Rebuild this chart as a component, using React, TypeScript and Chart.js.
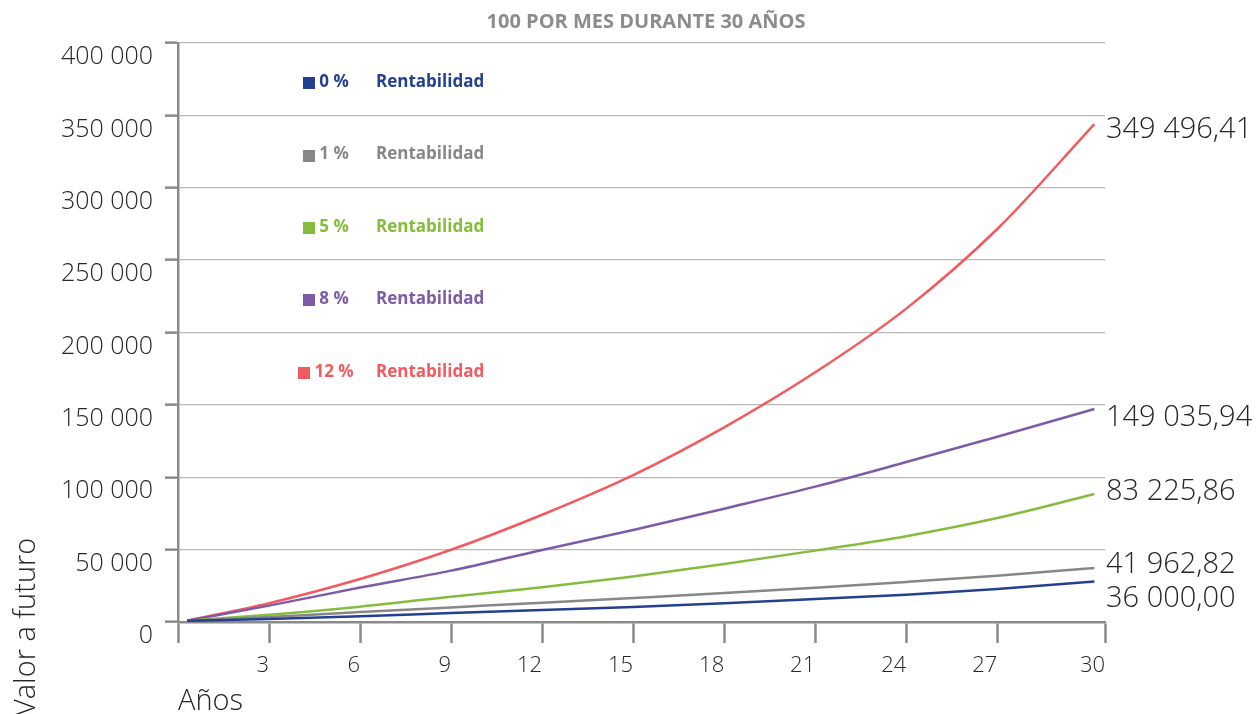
import React, { useEffect, useRef } from 'react';
import { Chart, registerables } from 'chart.js';

Chart.register(...registerables);

// ---- data ----
const YEARS = [0.3, 3, 6, 9, 12, 15, 18, 21, 24, 27, 30.2];
const RATE_0 = [900, 2100, 3900, 6200, 8300, 10400, 13000, 15900, 18900, 22800, 28000];
const RATE_1 = [900, 3500, 6900, 10100, 13300, 16600, 20000, 23700, 27700, 32000, 37300];
const RATE_5 = [900, 5000, 10600, 17500, 24000, 31500, 40000, 49300, 59300, 71800, 88400];
const RATE_8 = [900, 11300, 23800, 35500, 49800, 63500, 78300, 93500, 110500, 128000, 147100];
const RATE_12 = [900, 13000, 29700, 49900, 74100, 101500, 134500, 172500, 216500, 271500, 344000];

const SERIES_NAMES = ['0 %', '1 %', '5 %', '8 %', '12 %'];
const END_LABELS = ['36 000,00', '41 962,82', '83 225,86', '149 035,94', '349 496,41'];
const X_TICKS = [0, 3, 6, 9, 12, 15, 18, 21, 24, 27, 30.55];
const X_TICK_LABELS = ['', '3', '6', '9', '12', '15', '18', '21', '24', '27', '30'];
const Y_MIN = 0;
const Y_MAX = 400000;
const Y_STEP = 50000;

const TITLE = '100 POR MES DURANTE 30 AÑOS';
const LEGEND_SUFFIX = 'Rentabilidad';
const Y_TITLE = 'Valor a futuro';
const X_TITLE = 'Años';

// ---- styles ----
const COLORS = ['#25408f', '#878787', '#86bc3e', '#7d5ba6', '#f15a5f'];
const END_LABEL_DY = [17, -3, -2, 9, 6];
const AXIS_COLOR = '#8a8a8a';
const GRID_COLOR = '#b8b8b8';
const TEXT_COLOR = '#262626';
const FONT = '"Open Sans", "Noto Sans", sans-serif';

const fmt = (n: number) => String(Math.round(n)).replace(/\B(?=(\d{3})+(?!\d))/g, ' ');

const annotationPlugin = {
  id: 'annotations',
  afterDraw(chart: any) {
    const { ctx } = chart;
    const y = chart.scales.y;
    const x = chart.scales.x;
    ctx.save();

    // title
    ctx.font = `bold 20px ${FONT}`;
    ctx.fillStyle = '#8c8c8c';
    ctx.textAlign = 'center';
    ctx.textBaseline = 'alphabetic';
    ctx.fillText(TITLE, 646, 28);

    // legend
    SERIES_NAMES.forEach((name, i) => {
      const cy = y.getPixelForValue(Y_MAX - Y_STEP / 2 - i * Y_STEP) + 3;
      ctx.font = `bold 17px ${FONT}`;
      ctx.fillStyle = COLORS[i];
      ctx.textBaseline = 'middle';
      ctx.textAlign = 'center';
      ctx.fillText(name, 334, cy);
      const w = ctx.measureText(name).width;
      ctx.fillRect(Math.round(334 - w / 2 - 4 - 12), Math.round(cy - 5), 12, 12);
      ctx.textAlign = 'left';
      ctx.fillText(LEGEND_SUFFIX, 376, cy);
    });

    // end value labels
    ctx.font = `300 29px ${FONT}`;
    ctx.fillStyle = TEXT_COLOR;
    ctx.textAlign = 'left';
    ctx.textBaseline = 'middle';
    END_LABELS.forEach((label, i) => {
      const meta = chart.getDatasetMeta(i);
      const last = meta.data[meta.data.length - 1];
      ctx.fillText(label, x.right + 1, last.y + END_LABEL_DY[i]);
    });

    // axis titles
    ctx.font = `300 29px ${FONT}`;
    ctx.textBaseline = 'alphabetic';
    ctx.textAlign = 'left';
    ctx.fillText(X_TITLE, x.left, 710);

    ctx.translate(35, 716);
    ctx.rotate(-Math.PI / 2);
    ctx.fillText(Y_TITLE, 0, 0);

    ctx.restore();
  },
};

export default function App() {
  const canvasRef = useRef<HTMLCanvasElement | null>(null);

  useEffect(() => {
    if (!canvasRef.current) return;
    const series = [RATE_0, RATE_1, RATE_5, RATE_8, RATE_12];
    const chart = new Chart(canvasRef.current, {
      type: 'line',
      data: {
        datasets: series.map((vals, i) => ({
          label: SERIES_NAMES[i],
          data: YEARS.map((yr, j) => ({ x: yr, y: vals[j] })),
          borderColor: COLORS[i],
          backgroundColor: COLORS[i],
          borderWidth: 2.5,
          pointRadius: 0,
          tension: 0.4,
          cubicInterpolationMode: 'monotone' as const,
          fill: false,
        })),
      },
      options: {
        animation: false,
        responsive: false,
        devicePixelRatio: 1,
        layout: { padding: { top: 43, right: 153, left: 0, bottom: 0 } },
        plugins: {
          legend: { display: false },
          tooltip: { enabled: false },
          title: { display: false },
        },
        scales: {
          x: {
            type: 'linear',
            min: 0,
            max: X_TICKS[X_TICKS.length - 1],
            afterBuildTicks: (s: any) => {
              s.ticks = X_TICKS.map((v) => ({ value: v }));
            },
            afterFit: (s: any) => {
              s.height = 92;
            },
            grid: {
              drawOnChartArea: false,
              drawTicks: true,
              tickLength: 21,
              tickWidth: 2.5,
              tickColor: AXIS_COLOR,
            },
            border: { display: true, color: AXIS_COLOR, width: 2.5 },
            ticks: {
              autoSkip: false,
              maxRotation: 0,
              align: 'end',
              padding: 10,
              color: TEXT_COLOR,
              font: { family: FONT, size: 22, weight: '300' },
              callback: (_v: any, i: number) => X_TICK_LABELS[i] ?? '',
            },
          },
          y: {
            type: 'linear',
            min: Y_MIN,
            max: Y_MAX,
            afterFit: (s: any) => {
              s.width = 178;
            },
            grid: {
              color: GRID_COLOR,
              lineWidth: 1.3,
              drawTicks: true,
              tickLength: 13,
              tickWidth: 2.5,
              tickColor: AXIS_COLOR,
            },
            border: { display: true, color: AXIS_COLOR, width: 2.5 },
            ticks: {
              stepSize: Y_STEP,
              padding: 12,
              labelOffset: 14,
              color: TEXT_COLOR,
              font: { family: FONT, size: 25, weight: '300' },
              callback: (v: any) => fmt(Number(v)),
            },
          },
        },
      },
      plugins: [annotationPlugin],
    } as any);
    return () => chart.destroy();
  }, []);

  return (
    <div style={{ position: 'fixed', left: 0, top: 0, width: 1258, height: 714, background: '#fff' }}>
      <canvas ref={canvasRef} width={1258} height={714} style={{ width: 1258, height: 714, display: 'block' }} />
    </div>
  );
}
